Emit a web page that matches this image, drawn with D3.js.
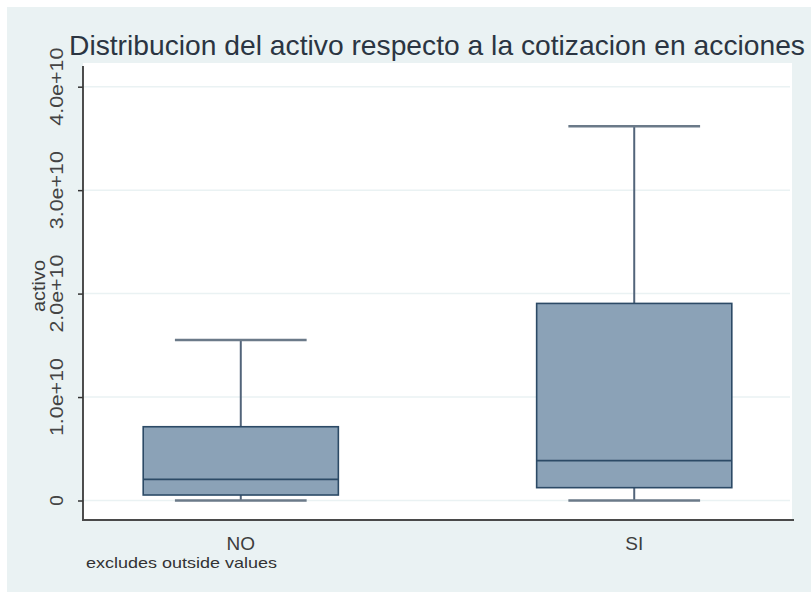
<!DOCTYPE html>
<html>
<head>
<meta charset="utf-8">
<script src="https://cdn.jsdelivr.net/npm/d3@7"></script>
<style>
  html, body { margin: 0; padding: 0; background: #ffffff; }
  svg { display: block; font-family: "Liberation Sans", Arial, sans-serif; }
</style>
</head>
<body>
<svg id="chart" width="811" height="592"></svg>
<script>
// ---- data ----
const categories   = ["NO", "SI"];
const lowerWhisker = [0.0e10, 0.0e10];
const q1Values     = [0.053e10, 0.124e10];
const medianValues = [0.205e10, 0.385e10];
const q3Values     = [0.713e10, 1.905e10];
const upperWhisker = [1.551e10, 3.618e10];
const yTickValues  = [0, 1e10, 2e10, 3e10, 4e10];
const yTickLabels  = ["0", "1.0e+10", "2.0e+10", "3.0e+10", "4.0e+10"];
const titleText    = "Distribucion del activo respecto a la cotizacion en acciones";
const yAxisTitle   = "activo";
const noteText     = "excludes outside values";

const svg = d3.select("#chart");
const W = 811, H = 592;
const plot = { left: 83, right: 792, top: 63, bottom: 520 };

// outer background (white border top/left, then light blue-gray)
svg.append("rect").attr("x", 0).attr("y", 0).attr("width", W).attr("height", H).attr("fill", "#ffffff");
svg.append("rect").attr("x", 7).attr("y", 7).attr("width", W - 7).attr("height", H - 7).attr("fill", "#eaf2f3");
// plot region
svg.append("rect").attr("x", plot.left).attr("y", plot.top)
  .attr("width", plot.right - plot.left).attr("height", plot.bottom - plot.top).attr("fill", "#ffffff");

const y = d3.scaleLinear().domain([-0.1885e10, 4.229e10]).range([plot.bottom, plot.top]);
const x = d3.scaleBand().domain(categories).range([plot.left, plot.right])
  .paddingInner(0.504).paddingOuter(0.153);

// gridlines
svg.append("g").selectAll("line").data(yTickValues).join("line")
  .attr("x1", plot.left).attr("x2", plot.right - 2)
  .attr("y1", d => y(d)).attr("y2", d => y(d))
  .attr("stroke", "#eaf2f3").attr("stroke-width", 1.5);

// y axis
const yAxis = d3.axisLeft(y).tickValues(yTickValues).tickSize(5)
  .tickFormat((d, i) => yTickLabels[i]);
const gy = svg.append("g").attr("transform", `translate(${plot.left},0)`).call(yAxis);
gy.select(".domain").remove();
gy.selectAll(".tick line").attr("stroke", "#333").attr("stroke-width", 1.5);
gy.selectAll(".tick text").remove();
svg.append("line").attr("x1", plot.left).attr("x2", plot.left)
  .attr("y1", plot.top + 3).attr("y2", plot.bottom + 1)
  .attr("stroke", "#3a3a3a").attr("stroke-width", 1.8);
// rotated tick labels
svg.append("g").selectAll("text").data(yTickValues).join("text")
  .attr("transform", d => `translate(63,${y(d)}) rotate(-90)`)
  .attr("text-anchor", "middle")
  .attr("font-size", 19)
  .attr("fill", "#444")
  .attr("textLength", (d, i) => yTickLabels[i].length > 1 ? 78 : null)
  .attr("lengthAdjust", "spacingAndGlyphs")
  .text((d, i) => yTickLabels[i]);

// x axis line
svg.append("line").attr("x1", plot.left - 1).attr("x2", plot.right + 2)
  .attr("y1", plot.bottom).attr("y2", plot.bottom)
  .attr("stroke", "#4a4a4a").attr("stroke-width", 2);

// category labels
svg.append("g").selectAll("text").data(categories).join("text")
  .attr("x", d => x(d) + x.bandwidth() / 2)
  .attr("y", 550)
  .attr("text-anchor", "middle")
  .attr("font-size", 19)
  .attr("fill", "#3d3d3d")
  .text(d => d);

// boxes
const boxes = categories.map((c, i) => ({
  c, lo: lowerWhisker[i], q1: q1Values[i], med: medianValues[i], q3: q3Values[i], hi: upperWhisker[i]
}));
const g = svg.append("g");
const capW = x.bandwidth() * 0.675;
boxes.forEach(b => {
  const cx = x(b.c) + x.bandwidth() / 2;
  // whiskers
  g.append("line").attr("x1", cx).attr("x2", cx).attr("y1", y(b.q3)).attr("y2", y(b.hi))
    .attr("stroke", "#52647a").attr("stroke-width", 2);
  g.append("line").attr("x1", cx).attr("x2", cx).attr("y1", y(b.q1)).attr("y2", y(b.lo))
    .attr("stroke", "#52647a").attr("stroke-width", 2);
  g.append("line").attr("x1", cx - capW / 2).attr("x2", cx + capW / 2).attr("y1", y(b.hi)).attr("y2", y(b.hi))
    .attr("stroke", "#6b7a89").attr("stroke-width", 2.6);
  g.append("line").attr("x1", cx - capW / 2).attr("x2", cx + capW / 2).attr("y1", y(b.lo)).attr("y2", y(b.lo))
    .attr("stroke", "#6b7a89").attr("stroke-width", 2.6);
  // box
  g.append("rect").attr("x", x(b.c)).attr("y", y(b.q3))
    .attr("width", x.bandwidth()).attr("height", y(b.q1) - y(b.q3))
    .attr("fill", "#8ba2b7").attr("stroke", "#2c4a66").attr("stroke-width", 1.6);
  g.append("line").attr("x1", x(b.c)).attr("x2", x(b.c) + x.bandwidth())
    .attr("y1", y(b.med)).attr("y2", y(b.med))
    .attr("stroke", "#2c4a66").attr("stroke-width", 1.8);
});

// titles
svg.append("text").attr("x", 69).attr("y", 55)
  .attr("font-size", 28).attr("fill", "#2b3542")
  .attr("textLength", 736).attr("lengthAdjust", "spacingAndGlyphs")
  .text(titleText);
svg.append("text").attr("transform", "translate(45,286) rotate(-90)")
  .attr("text-anchor", "middle").attr("font-size", 18).attr("fill", "#3d3d3d")
  .attr("textLength", 52).attr("lengthAdjust", "spacingAndGlyphs")
  .text(yAxisTitle);
svg.append("text").attr("x", 86).attr("y", 568)
  .attr("font-size", 15).attr("fill", "#333")
  .attr("textLength", 191).attr("lengthAdjust", "spacingAndGlyphs")
  .text(noteText);
</script>
</body>
</html>
